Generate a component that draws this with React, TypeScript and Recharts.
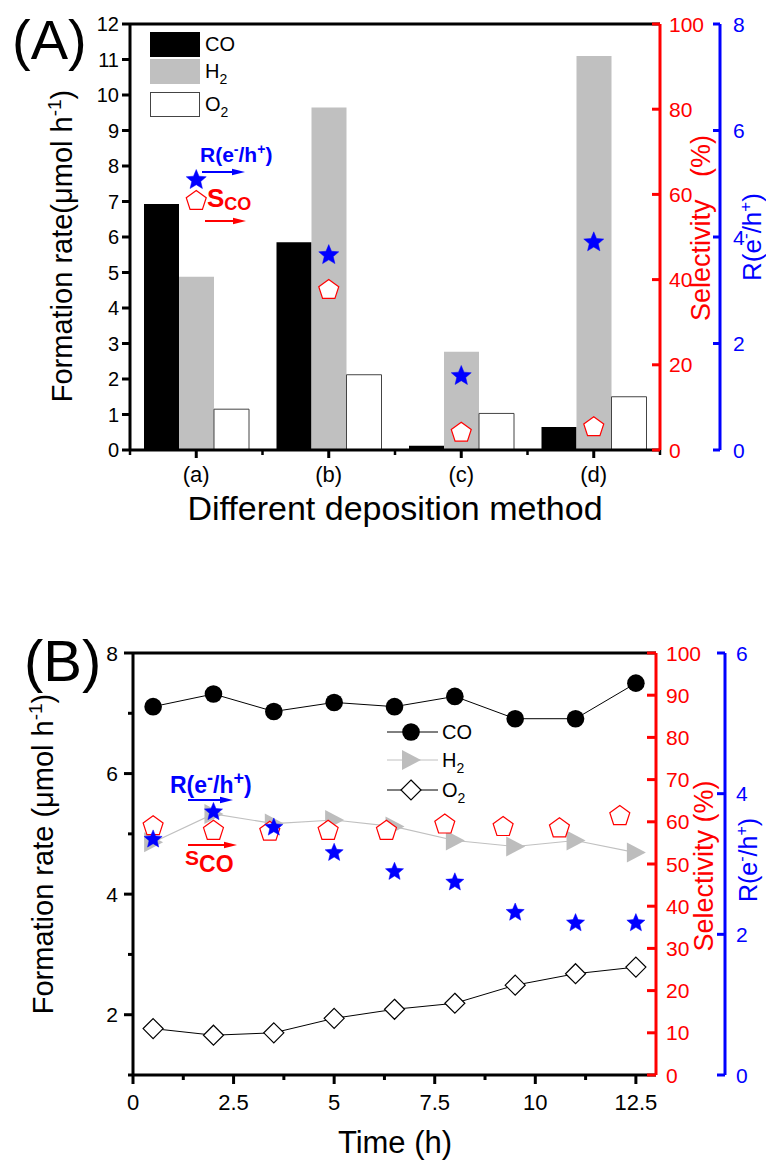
import React from 'react';
import { ComposedChart, Bar, Line, Scatter, XAxis, YAxis, ReferenceLine, Legend } from 'recharts';

const FONT = "'Liberation Sans', Arial, Helvetica, sans-serif";
const RED = '#ff0000';
const BLUE = '#0000ff';
const GRAY = '#c0c0c0';

// ---------- Panel A data ----------
const methods = ['(a)', '(b)', '(c)', '(d)'];
const coRateA = [6.93, 5.85, 0.12, 0.65];
const h2RateA = [4.88, 9.65, 2.77, 11.1];
const o2RateA = [1.15, 2.12, 1.03, 1.5];
const selectivityA = [58.7, 37.8, 4.3, 5.6];
const ratioA = [5.07, 3.66, 1.39, 3.9];
const rateTicksA = [0, 1, 2, 3, 4, 5, 6, 7, 8, 9, 10, 11, 12];
const selTicksA = [0, 20, 40, 60, 80, 100];
const ratioTicksA = [0, 2, 4, 6, 8];

// ---------- Panel B data ----------
const timeB = [0.5, 2, 3.5, 5, 6.5, 8, 9.5, 11, 12.5];
const coRateB = [7.11, 7.32, 7.03, 7.18, 7.11, 7.28, 6.91, 6.91, 7.5];
const h2RateB = [4.86, 5.33, 5.17, 5.23, 5.12, 4.89, 4.79, 4.89, 4.69];
const o2RateB = [1.77, 1.66, 1.7, 1.94, 2.09, 2.19, 2.49, 2.68, 2.79];
const ratioB = [3.35, 3.74, 3.52, 3.16, 2.89, 2.74, 2.31, 2.16, 2.16];
const selTimeB = [0.5, 2.0, 3.4, 4.85, 6.3, 7.75, 9.2, 10.6, 12.1];
const selectivityB = [59.2, 58.1, 57.9, 58.1, 58.1, 59.6, 59.0, 58.7, 61.6];
const timeTicksB = [0, 1.25, 2.5, 3.75, 5, 6.25, 7.5, 8.75, 10, 11.25, 12.5];
const timeLabelsB = [0, 2.5, 5, 7.5, 10, 12.5];
const rateTicksB = [1, 2, 3, 4, 5, 6, 7, 8];
const rateLabelsB = [2, 4, 6, 8];
const selTicksB = [0, 10, 20, 30, 40, 50, 60, 70, 80, 90, 100];
const ratioTicksB = [0, 2, 4, 6];

// ---------- marker shapes ----------
function starPath(cx: number, cy: number, R: number) {
  const r = R * 0.45;
  let d = '';
  for (let i = 0; i < 10; i++) {
    const a = -Math.PI / 2 + (i * Math.PI) / 5;
    const rad = i % 2 === 0 ? R : r;
    d += (i === 0 ? 'M' : 'L') + (cx + rad * Math.cos(a)).toFixed(2) + ',' + (cy + rad * Math.sin(a)).toFixed(2);
  }
  return d + 'Z';
}
function pentagonPath(cx: number, cy: number, R: number) {
  let d = '';
  for (let i = 0; i < 5; i++) {
    const a = -Math.PI / 2 + (i * 2 * Math.PI) / 5;
    d += (i === 0 ? 'M' : 'L') + (cx + R * Math.cos(a)).toFixed(2) + ',' + (cy + R * Math.sin(a)).toFixed(2);
  }
  return d + 'Z';
}
const starShape = (R: number) => (p: any) =>
  p.cx == null ? <g /> : <path d={starPath(p.cx, p.cy, R)} fill={BLUE} stroke={BLUE} strokeWidth={0.5} />;
const pentShape = (R: number) => (p: any) =>
  p.cx == null ? <g /> : <path d={pentagonPath(p.cx, p.cy + 1, R)} fill="#fff" stroke={RED} strokeWidth={1.2} />;

const circleDot = (p: any) => <circle key={'c' + p.index} cx={p.cx} cy={p.cy} r={8.8} fill="#000" />;
const triDot = (p: any) => (
  <polygon key={'t' + p.index} points={`${p.cx - 9},${p.cy - 10} ${p.cx + 10},${p.cy} ${p.cx - 9},${p.cy + 10}`} fill="#bdbdbd" />
);
const diaDot = (p: any) => (
  <polygon key={'d' + p.index} points={`${p.cx},${p.cy - 10} ${p.cx + 10},${p.cy} ${p.cx},${p.cy + 10} ${p.cx - 10},${p.cy}`} fill="#fff" stroke="#000" strokeWidth={1.2} />
);

// ---------- custom ticks ----------
type YCfg = { side: 'left' | 'right'; margin: number; labeled: (v: number) => boolean; majorLen: number; minorLen: number; color: string; fontSize: number };
const makeYTick = (c: YCfg) => (p: any) => {
  const { x, y, payload } = p;
  const v = payload.value;
  const lab = c.labeled(v);
  const len = lab ? c.majorLen : c.minorLen;
  const ax = c.side === 'left' ? x + c.margin : x - c.margin;
  return (
    <g>
      <line x1={ax - len} x2={ax} y1={y} y2={y} stroke={c.color} strokeWidth={3} />
      {lab && (
        <text x={x} y={y} dy="0.36em" textAnchor={c.side === 'left' ? 'end' : 'start'} fill={c.color} fontSize={c.fontSize} fontFamily={FONT}>
          {v}
        </text>
      )}
    </g>
  );
};
type XCfg = { labeled: (v: any) => boolean; majorLen: number; minorLen: number; fontSize: number; baseline: number; band: boolean };
const makeXTick = (c: XCfg) => (p: any) => {
  const { x, y, payload, index } = p;
  const v = payload.value;
  const lab = c.labeled(v);
  const len = lab ? c.majorLen : c.minorLen;
  const off = payload.offset ?? 0;
  return (
    <g>
      <line x1={x} x2={x} y1={y} y2={y + len} stroke="#000" strokeWidth={3} />
      {c.band && index === 0 && <line x1={x - off} x2={x - off} y1={y} y2={y + c.minorLen} stroke="#000" strokeWidth={2.5} />}
      {c.band && <line x1={x + off} x2={x + off} y1={y} y2={y + c.minorLen} stroke="#000" strokeWidth={2.5} />}
      {lab && (
        <text x={x} y={y + c.baseline} textAnchor="middle" fill="#000" fontSize={c.fontSize} fontFamily={FONT}>
          {String(v)}
        </text>
      )}
    </g>
  );
};

// ---------- legends ----------
const legendItemsA = [
  { key: 'co', label: 'CO', sub: '', fill: '#000', stroke: '#000', top: 32 },
  { key: 'h2', label: 'H', sub: '2', fill: GRAY, stroke: GRAY, top: 59 },
  { key: 'o2', label: 'O', sub: '2', fill: '#fff', stroke: '#444', top: 92 },
];
const LegendA = () => (
  <div style={{ position: 'relative', width: 0, height: 0, fontFamily: FONT }}>
    {legendItemsA.map((it) => (
      <div key={it.key} style={{ position: 'absolute', left: 150, top: it.top, display: 'flex', alignItems: 'center', height: 25, whiteSpace: 'nowrap' }}>
        <div style={{ width: 48, height: 23, background: it.fill, border: `1px solid ${it.stroke}` }} />
        <span style={{ marginLeft: 5, fontSize: 20, color: '#000' }}>
          {it.label}
          {it.sub && <span style={{ fontSize: 14, position: 'relative', top: 6 }}>{it.sub}</span>}
        </span>
      </div>
    ))}
  </div>
);
const legendItemsB = [
  { key: 'co', label: 'CO', sub: '', line: '#000', cy: 132 },
  { key: 'h2', label: 'H', sub: '2', line: GRAY, cy: 160 },
  { key: 'o2', label: 'O', sub: '2', line: '#000', cy: 190 },
];
const LegendB = () => (
  <div style={{ position: 'relative', width: 0, height: 0, fontFamily: FONT }}>
    {legendItemsB.map((it) => (
      <div key={it.key} style={{ position: 'absolute', left: 387, top: it.cy - 13, display: 'flex', alignItems: 'center', height: 26, whiteSpace: 'nowrap' }}>
        <svg width={51} height={26}>
          <line x1={0} x2={51} y1={13} y2={13} stroke={it.line} strokeWidth={1} />
          {it.key === 'co' && circleDot({ cx: 24, cy: 13, index: 0 })}
          {it.key === 'h2' && triDot({ cx: 24, cy: 13, index: 0 })}
          {it.key === 'o2' && diaDot({ cx: 24, cy: 13, index: 0 })}
        </svg>
        <span style={{ marginLeft: 4, fontSize: 20, color: '#000' }}>
          {it.label}
          {it.sub && <span style={{ fontSize: 14, position: 'relative', top: 6 }}>{it.sub}</span>}
        </span>
      </div>
    ))}
  </div>
);

const Arrow = ({ x1, x2, y, color }: { x1: number; x2: number; y: number; color: string }) => (
  <g>
    <line x1={x1} x2={x2 - 8} y1={y} y2={y} stroke={color} strokeWidth={1.8} />
    <polygon points={`${x2},${y} ${x2 - 13},${y - 3.2} ${x2 - 13},${y + 3.2}`} fill={color} />
  </g>
);

export default function App() {
  const dataA = methods.map((m, i) => ({ cat: m, co: coRateA[i], h2: h2RateA[i], o2: o2RateA[i], sel: selectivityA[i], r: ratioA[i] }));
  const dataB = timeB.map((t, i) => ({ t, co: coRateB[i], h2: h2RateB[i], o2: o2RateB[i], r: ratioB[i] }));
  const selDataB = selTimeB.map((t, i) => ({ t, sel: selectivityB[i] }));

  return (
    <div style={{ position: 'absolute', left: 0, top: 0, width: 766, height: 1162, background: '#fff', fontFamily: FONT }}>
      <div style={{ position: 'absolute', left: 0, top: 0 }}>
        <ComposedChart width={766} height={540} data={dataA} margin={{ top: 24, right: 0, bottom: 0, left: 0 }} barGap={0}>
          <XAxis
            dataKey="cat"
            type="category"
            height={90}
            interval={0}
            tickSize={0}
            tickMargin={0}
            tickLine={false}
            axisLine={{ stroke: '#000', strokeWidth: 3 }}
            tick={makeXTick({ labeled: () => true, majorLen: 8, minorLen: 5, fontSize: 22, baseline: 32, band: true })}
          />
          <YAxis
            yAxisId="left"
            width={130}
            domain={[0, 12]}
            ticks={rateTicksA}
            interval={0}
            tickSize={0}
            tickMargin={11}
            tickLine={false}
            axisLine={{ stroke: '#000', strokeWidth: 3 }}
            tick={makeYTick({ side: 'left', margin: 11, labeled: () => true, majorLen: 8, minorLen: 8, color: '#000', fontSize: 20 })}
          />
          <YAxis
            yAxisId="s2"
            orientation="right"
            width={46}
            domain={[0, 8]}
            ticks={ratioTicksA}
            interval={0}
            tickSize={0}
            tickMargin={13}
            tickLine={false}
            axisLine={{ stroke: BLUE, strokeWidth: 3 }}
            tick={makeYTick({ side: 'right', margin: 13, labeled: () => true, majorLen: 7, minorLen: 7, color: BLUE, fontSize: 21 })}
          />
          <YAxis
            yAxisId="s1"
            orientation="right"
            width={60}
            domain={[0, 100]}
            ticks={selTicksA}
            interval={0}
            tickSize={0}
            tickMargin={9}
            tickLine={false}
            axisLine={{ stroke: RED, strokeWidth: 3 }}
            tick={makeYTick({ side: 'right', margin: 9, labeled: () => true, majorLen: 8, minorLen: 8, color: RED, fontSize: 21 })}
          />
          <ReferenceLine yAxisId="left" y={12} stroke="#000" strokeWidth={3} />
          <Bar yAxisId="left" dataKey="co" name="CO" fill="#000" barSize={35} isAnimationActive={false} />
          <Bar yAxisId="left" dataKey="h2" name="H2" fill={GRAY} barSize={35} isAnimationActive={false} />
          <Bar yAxisId="left" dataKey="o2" name="O2" fill="#fff" stroke="#444" strokeWidth={1} barSize={35} isAnimationActive={false} />
          <Scatter yAxisId="s1" dataKey="sel" name="S_CO" shape={pentShape(10.5)} isAnimationActive={false} />
          <Scatter yAxisId="s2" dataKey="r" name="R" shape={starShape(10.5)} isAnimationActive={false} />
          <Legend content={() => <LegendA />} wrapperStyle={{ left: 0, top: 0, width: 0, height: 0 }} />
        </ComposedChart>
      </div>

      <div style={{ position: 'absolute', left: 0, top: 600 }}>
        <ComposedChart width={766} height={562} data={dataB} margin={{ top: 53, right: 0, bottom: 0, left: 0 }}>
          <XAxis
            dataKey="t"
            type="number"
            domain={[0, 13]}
            ticks={timeTicksB}
            height={87}
            interval={0}
            tickSize={0}
            tickMargin={0}
            tickLine={false}
            axisLine={{ stroke: '#000', strokeWidth: 3 }}
            tick={makeXTick({ labeled: (v) => timeLabelsB.includes(v), majorLen: 9, minorLen: 5, fontSize: 22, baseline: 35, band: false })}
          />
          <YAxis
            yAxisId="left"
            width={133}
            domain={[1, 8]}
            ticks={rateTicksB}
            interval={0}
            tickSize={0}
            tickMargin={15}
            tickLine={false}
            axisLine={{ stroke: '#000', strokeWidth: 3 }}
            tick={makeYTick({ side: 'left', margin: 15, labeled: (v) => rateLabelsB.includes(v), majorLen: 9, minorLen: 5, color: '#000', fontSize: 21 })}
          />
          <YAxis
            yAxisId="s2"
            orientation="right"
            width={41}
            domain={[0, 6]}
            ticks={ratioTicksB}
            interval={0}
            tickSize={0}
            tickMargin={11}
            tickLine={false}
            axisLine={{ stroke: BLUE, strokeWidth: 3 }}
            tick={makeYTick({ side: 'right', margin: 11, labeled: () => true, majorLen: 8, minorLen: 8, color: BLUE, fontSize: 21 })}
          />
          <YAxis
            yAxisId="s1"
            orientation="right"
            width={69}
            domain={[0, 100]}
            ticks={selTicksB}
            interval={0}
            tickSize={0}
            tickMargin={10}
            tickLine={false}
            axisLine={{ stroke: RED, strokeWidth: 3 }}
            tick={makeYTick({ side: 'right', margin: 10, labeled: () => true, majorLen: 9, minorLen: 9, color: RED, fontSize: 21 })}
          />
          <ReferenceLine yAxisId="left" y={8} stroke="#000" strokeWidth={3} />
          <Line yAxisId="left" dataKey="co" name="CO" stroke="#000" strokeWidth={1} dot={circleDot} activeDot={false} isAnimationActive={false} />
          <Line yAxisId="left" dataKey="h2" name="H2" stroke={GRAY} strokeWidth={1.2} dot={triDot} activeDot={false} isAnimationActive={false} />
          <Line yAxisId="left" dataKey="o2" name="O2" stroke="#000" strokeWidth={1} dot={diaDot} activeDot={false} isAnimationActive={false} />
          <Scatter yAxisId="s1" data={selDataB} dataKey="sel" name="S_CO" shape={pentShape(10.5)} isAnimationActive={false} />
          <Scatter yAxisId="s2" dataKey="r" name="R" shape={starShape(9.5)} isAnimationActive={false} />
          <Legend content={() => <LegendB />} wrapperStyle={{ left: 0, top: 0, width: 0, height: 0 }} />
        </ComposedChart>
      </div>

      <svg width={766} height={1162} style={{ position: 'absolute', left: 0, top: 0, pointerEvents: 'none' }} fontFamily={FONT}>
        {/* Panel labels */}
        <text x={12} y={59} fontSize={56} fill="#000">(A)</text>
        <text x={24} y={681} fontSize={58} fill="#000">(B)</text>

        {/* Panel A axis titles */}
        <text transform="translate(72,246) rotate(-90)" textAnchor="middle" fontSize={29} fill="#000">
          Formation rate(μmol h<tspan fontSize={19} dy={-11}>-1</tspan><tspan dy={11}>)</tspan>
        </text>
        <text x={395} y={520} textAnchor="middle" fontSize={34} fill="#000">Different deposition method</text>
        <text transform="translate(710,228) rotate(-90)" textAnchor="middle" fontSize={27} fill={RED} style={{ whiteSpace: 'pre' }}>
          Selectivity   (%)
        </text>
        <text transform="translate(761,237) rotate(-90)" textAnchor="middle" fontSize={26} fill={BLUE}>
          R(e<tspan fontSize={17} dy={-10}>-</tspan><tspan dy={10}>/h</tspan><tspan fontSize={17} dy={-10}>+</tspan><tspan dy={10}>)</tspan>
        </text>

        {/* Panel A annotations */}
        <text x={200} y={162} fontSize={21} fontWeight="bold" fill={BLUE}>
          R(e<tspan fontSize={14} dy={-8}>-</tspan><tspan dy={8}>/h</tspan><tspan fontSize={14} dy={-8}>+</tspan><tspan dy={8}>)</tspan>
        </text>
        <Arrow x1={202} x2={245} y={172} color={BLUE} />
        <text x={207} y={207} fontSize={26} fontWeight="bold" fill={RED}>
          S<tspan fontSize={18} dy={3}>CO</tspan>
        </text>
        <Arrow x1={205} x2={246} y={221} color={RED} />

        {/* Panel B axis titles */}
        <text transform="translate(53,854) rotate(-90)" textAnchor="middle" fontSize={29} fill="#000">
          Formation rate (μmol h<tspan fontSize={19} dy={-11}>-1</tspan><tspan dy={11}>)</tspan>
        </text>
        <text x={395} y={1153} textAnchor="middle" fontSize={31} fill="#000">Time (h)</text>
        <text transform="translate(713,866) rotate(-90)" textAnchor="middle" fontSize={27} fill={RED}>
          Selectivity (%)
        </text>
        <text transform="translate(757,860) rotate(-90)" textAnchor="middle" fontSize={25} fill={BLUE}>
          R(e<tspan fontSize={16} dy={-10}>-</tspan><tspan dy={10}>/h</tspan><tspan fontSize={16} dy={-10}>+</tspan><tspan dy={10}>)</tspan>
        </text>

        {/* Panel B annotations */}
        <text x={170} y={793} fontSize={23} fontWeight="bold" fill={BLUE}>
          R(e<tspan fontSize={18} dy={-9}>-</tspan><tspan dy={9}>/h</tspan><tspan fontSize={18} dy={-9}>+</tspan><tspan dy={9}>)</tspan>
        </text>
        <Arrow x1={188} x2={233} y={800} color={BLUE} />
        <Arrow x1={188} x2={237} y={845} color={RED} />
        <text x={185} y={865} fontSize={21} fontWeight="bold" fill={RED}>
          S<tspan fontSize={23} dy={7}>CO</tspan>
        </text>
      </svg>
    </div>
  );
}
